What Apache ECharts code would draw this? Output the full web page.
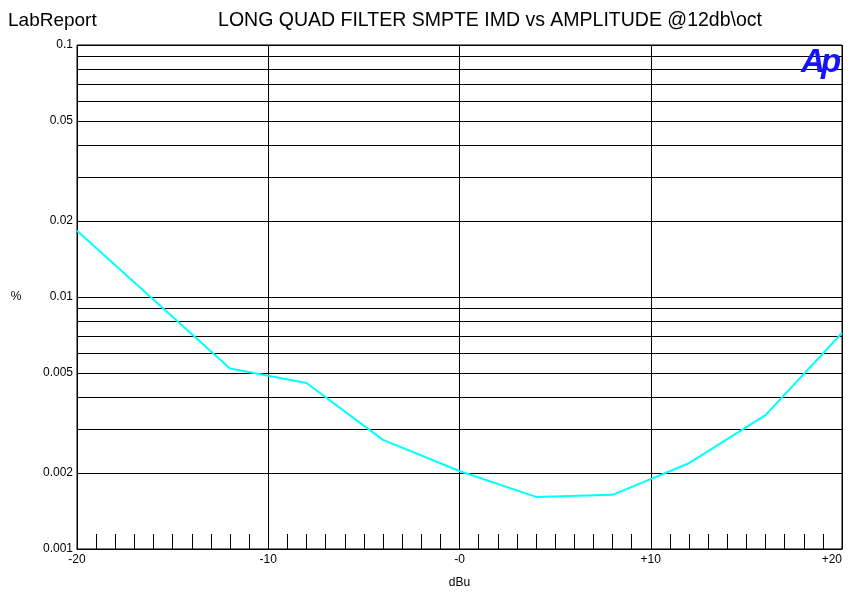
<!DOCTYPE html>
<html>
<head>
<meta charset="utf-8">
<script src="https://cdn.jsdelivr.net/npm/echarts@6/dist/echarts.min.js"></script>
<style>html,body{margin:0;padding:0;background:#fff}#c{width:866px;height:613px}</style>
</head>
<body>
<div id="c"></div>
<script>
const amplitudeDbu = [-20, -12, -8, -4, 0, 4, 8, 12, 16, 20];
const imdPercent = [0.0183, 0.0052, 0.00456, 0.00271, 0.00204, 0.00161, 0.00164, 0.00219, 0.0034, 0.0072];
const xTickLabels = {'-20': '-20', '-10': '-10', '0': '-0', '10': '+10', '20': '+20'};
const yMinorGrid = [0.09, 0.08, 0.07, 0.06, 0.05, 0.04, 0.03, 0.02, 0.009, 0.008, 0.007, 0.006, 0.005, 0.004, 0.003, 0.002];
const yExtraLabels = {0.05: '0.05', 0.02: '0.02', 0.005: '0.005', 0.002: '0.002'};
const yMajorLabels = {0.1: '0.1', 0.01: '0.01', 0.001: '0.001'};

const FONT = 'Liberation Sans, Arial, sans-serif';
const chart = echarts.init(document.getElementById('c'), null, {renderer: 'canvas'});

const markData = yMinorGrid.map(v => {
  const lbl = yExtraLabels[v];
  return {
    yAxis: v,
    label: lbl ? {show: true, formatter: lbl, position: 'start', distance: 4, color: '#000', fontSize: 12, fontFamily: FONT} : {show: false}
  };
});

chart.setOption({
  animation: false,
  backgroundColor: '#fff',
  grid: {left: 77, right: 24, top: 45, bottom: 64, show: true, borderColor: '#000', borderWidth: 1},
  graphic: [
    {type: 'text', left: 8, top: 11, style: {text: 'LabReport', font: '19px ' + FONT, fill: '#000'}},
    {type: 'text', x: 490, y: 11, style: {text: 'LONG QUAD FILTER SMPTE IMD vs AMPLITUDE @12db\\oct', font: '19.5px ' + FONT, fill: '#000', align: 'center'}},
    {type: 'text', x: 801, y: 46, z: 10, style: {text: 'A', font: 'italic bold 33px ' + FONT, fill: '#1414ff', verticalAlign: 'top'}},
    {type: 'text', x: 821, y: 46, z: 10, style: {text: 'p', font: 'italic bold 33px ' + FONT, fill: '#1414ff', verticalAlign: 'top'}},
    {type: 'text', x: 16, y: 297, style: {text: '%', font: '12px ' + FONT, fill: '#000', align: 'center', verticalAlign: 'middle'}}
  ],
  xAxis: {
    type: 'value', min: -20, max: 20, interval: 10,
    name: 'dBu', nameLocation: 'middle', nameGap: 28,
    nameTextStyle: {color: '#000', fontSize: 12, fontFamily: FONT},
    axisLine: {show: true, lineStyle: {color: '#000', width: 1}},
    axisTick: {show: false, inside: true},
    minorTick: {show: true, splitNumber: 10, length: 15, lineStyle: {color: '#000', width: 1}},
    splitLine: {show: true, lineStyle: {color: '#000', width: 1}},
    axisLabel: {color: '#000', fontSize: 12, fontFamily: FONT, margin: 5, alignMaxLabel: 'right',
      formatter: v => xTickLabels[String(v)] || ''}
  },
  yAxis: {
    type: 'log', logBase: 10, min: 0.001, max: 0.1,
    axisLine: {show: true, lineStyle: {color: '#000', width: 1}},
    axisTick: {show: false},
    splitLine: {show: true, lineStyle: {color: '#000', width: 1}},
    minorSplitLine: {show: false},
    axisLabel: {color: '#000', fontSize: 12, fontFamily: FONT, margin: 4,
      formatter: v => yMajorLabels[v] || String(v)}
  },
  series: [{
    type: 'line',
    data: amplitudeDbu.map((x, i) => [x, imdPercent[i]]),
    showSymbol: false,
    lineStyle: {color: '#00ffff', width: 2},
    z: 5,
    markLine: {
      silent: true, symbol: 'none', animation: false, precision: 6,
      lineStyle: {color: '#000', width: 1, type: 'solid'},
      data: markData
    }
  }]
});
</script>
</body>
</html>
